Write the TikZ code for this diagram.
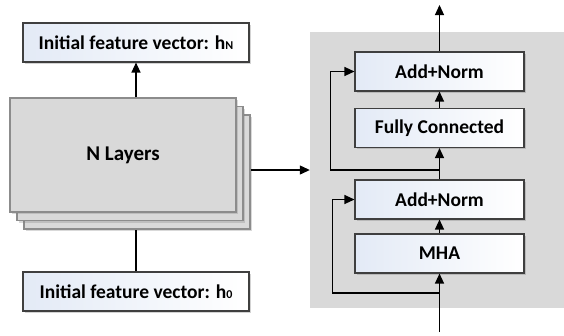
\documentclass[tikz,border=0pt]{standalone}
\usepackage{fontspec}
\setmainfont{Carlito}
\usetikzlibrary{arrows.meta, shadows, calc}

\definecolor{panelgray}{HTML}{D9D9D9}
\definecolor{edgegray}{HTML}{8C8C8C}
\definecolor{boxline}{HTML}{3F3F3F}
\definecolor{boxblue}{HTML}{E3EAF6}

\tikzset{
  featbox/.style={draw=boxline, line width=1.1pt, left color=boxblue, right color=white,
    minimum width=226pt, minimum height=39pt, inner sep=0pt,
    font=\bfseries\fontsize{19.5}{23}\selectfont,
    drop shadow={shadow xshift=1.5pt, shadow yshift=-1.5pt, opacity=0.35}},
  blockbox/.style={featbox, minimum width=169pt},
  layerbox/.style={draw=edgegray, line width=1.1pt, fill=panelgray,
    minimum width=226pt, minimum height=114pt, inner sep=0pt,
    font=\bfseries\fontsize{21}{25}\selectfont,
    drop shadow={shadow xshift=2pt, shadow yshift=-2pt, opacity=0.3}},
  link/.style={line width=1.2pt, -{Triangle[length=10pt,width=9pt]}},
}

\newcommand{\subtxt}[1]{\raisebox{-0.5pt}{\fontsize{12}{13}\selectfont #1}}

\begin{document}
\begin{tikzpicture}[x=1pt, y=-1pt]
  \useasboundingbox (0,0) rectangle (564,335);

  % Encoder panel
  \node[fill=panelgray, minimum width=254pt, minimum height=276pt, inner sep=0pt]
    (encoder) at (437,170) {};

  % Stack of layers
  \node[layerbox] (layer3) at (137,172) {};
  \node[layerbox] (layer2) at (130,163.5) {};
  \node[layerbox] (layer1) at (123,155) {N Layers};

  % Feature vectors
  \node[featbox] (hN) at (136,42.5) {Initial feature vector: h\subtxt{N}};
  \node[featbox] (h0) at (136,291.5) {Initial feature vector: h\subtxt{0}};

  % Encoder blocks
  \node[blockbox] (addnorm1) at (439.5,71.5) {Add+Norm};
  \node[blockbox] (fc) at (439.5,128) {Fully Connected};
  \node[blockbox] (addnorm2) at (439.5,199.5) {Add+Norm};
  \node[blockbox] (mha) at (439.5,253.5) {MHA};

  \coordinate (out) at (439.5,5);
  \coordinate (in) at (439.5,332);
  \coordinate (res1) at (439.5,293);
  \coordinate (res2) at (439.5,170);

  % Left side connections
  \draw[link] (hN.south |- layer1.north) -- (hN.south);
  \draw[line width=1.2pt] (h0.north) -- (h0.north |- layer3.south);
  \draw[link] (layer3.east |- res2) -- (layer3.east |- res2 -| encoder.west);

  % Encoder connections
  \draw[link] (in) -- (mha.south);
  \draw[link] (mha.north) -- (addnorm2.south);
  \draw[link] (addnorm2.north) -- (fc.south);
  \draw[link] (fc.north) -- (addnorm1.south);
  \draw[link] (addnorm1.north) -- (out);

  % Residual paths
  \draw[link] (res1) -- ++(-107,0) |- (addnorm2.west);
  \draw[link] (res2) -- ++(-109,0) |- (addnorm1.west);
\end{tikzpicture}
\end{document}
